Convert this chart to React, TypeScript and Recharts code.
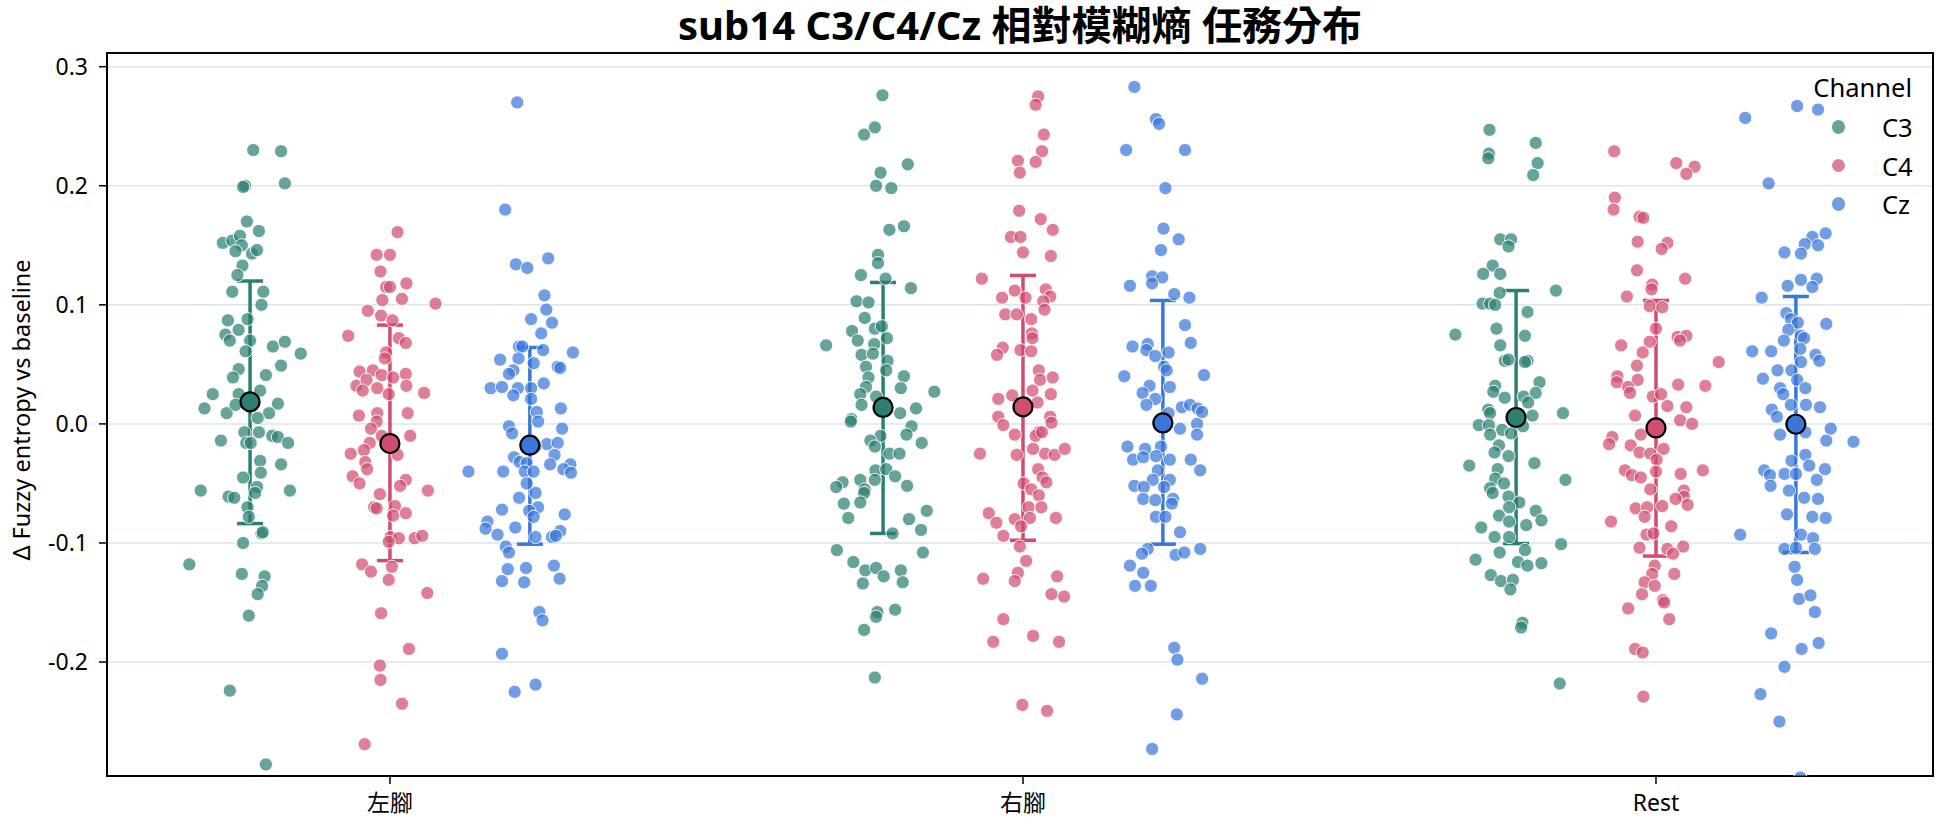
import {
  CartesianGrid,
  ErrorBar,
  ReferenceArea,
  Scatter,
  ScatterChart,
  XAxis,
  YAxis,
} from "recharts";

const FONT = '"Noto Sans", "Noto Sans CJK TC", sans-serif';

const conditions = ["左腳", "右腳", "Rest"];
const channels = ["C3", "C4", "Cz"];
const channelColors = ["#2b7f74", "#d14d6f", "#3a77d9"];
const dodge = [-0.221, 0, 0.221];

// each point: [jitter, value]
const leftC3 = [[0.005,0.230],[0.049,0.229],[-0.008,0.200],[-0.011,0.199],[0.055,0.202],[-0.005,0.170],[0.014,0.162],[-0.043,0.152],[-0.028,0.154],[-0.016,0.158],[-0.013,0.150],[-0.023,0.145],[0.003,0.143],[0.011,0.146],[-0.012,0.133],[-0.020,0.125],[-0.028,0.111],[0.021,0.111],[0.018,0.100],[-0.035,0.087],[-0.004,0.088],[-0.018,0.079],[-0.039,0.075],[-0.032,0.070],[0.0,0.070],[0.036,0.065],[0.055,0.069],[0.080,0.059],[-0.007,0.061],[-0.018,0.046],[-0.027,0.039],[0.025,0.041],[0.049,0.049],[-0.059,0.025],[-0.018,0.025],[0.016,0.028],[0.044,0.017],[-0.072,0.013],[-0.037,0.009],[-0.023,0.016],[0.030,0.009],[0.012,0.005],[-0.009,-0.007],[0.014,-0.007],[-0.006,-0.016],[0.001,-0.016],[0.035,-0.010],[0.044,-0.011],[0.060,-0.016],[-0.046,-0.014],[0.016,-0.031],[0.049,-0.034],[0.017,-0.041],[-0.011,-0.045],[0.011,-0.053],[-0.078,-0.056],[-0.034,-0.061],[-0.025,-0.062],[0.063,-0.056],[0.008,-0.058],[-0.004,-0.070],[-0.002,-0.078],[0.018,-0.092],[0.020,-0.091],[-0.011,-0.100],[-0.096,-0.118],[-0.013,-0.126],[0.023,-0.128],[0.019,-0.136],[0.012,-0.143],[-0.002,-0.161],[-0.032,-0.224],[0.025,-0.286]];
const leftC4 = [[0.012,0.161],[-0.021,0.142],[0.0,0.142],[-0.015,0.128],[0.026,0.118],[-0.006,0.115],[0.0,0.115],[-0.012,0.104],[0.019,0.105],[0.072,0.101],[-0.035,0.095],[-0.014,0.091],[0.004,0.087],[-0.066,0.074],[0.014,0.072],[0.025,0.068],[-0.006,0.060],[-0.008,0.055],[-0.048,0.044],[-0.027,0.045],[-0.013,0.041],[0.005,0.039],[0.025,0.042],[-0.053,0.032],[-0.037,0.037],[-0.020,0.030],[0.026,0.032],[0.054,0.026],[-0.043,0.028],[-0.002,0.025],[-0.049,0.007],[-0.020,0.009],[0.028,0.009],[-0.021,0.002],[0.032,-0.010],[-0.030,-0.004],[-0.013,-0.010],[-0.032,-0.016],[-0.062,-0.025],[-0.041,-0.022],[-0.039,-0.032],[-0.036,-0.038],[0.012,-0.026],[-0.059,-0.044],[-0.048,-0.050],[0.025,-0.047],[0.016,-0.052],[0.060,-0.056],[-0.016,-0.059],[-0.025,-0.070],[-0.021,-0.071],[0.008,-0.069],[0.025,-0.075],[0.005,-0.077],[0.001,-0.095],[0.014,-0.096],[0.039,-0.096],[0.051,-0.094],[-0.002,-0.099],[-0.044,-0.118],[-0.030,-0.124],[0.003,-0.120],[-0.002,-0.131],[0.059,-0.142],[-0.014,-0.159],[0.030,-0.189],[-0.016,-0.203],[-0.015,-0.215],[0.019,-0.235],[-0.040,-0.269]];
const leftCz = [[-0.020,0.270],[-0.039,0.180],[-0.022,0.134],[-0.004,0.131],[0.029,0.139],[0.023,0.108],[0.026,0.096],[0.002,0.088],[0.035,0.085],[0.018,0.076],[-0.017,0.065],[-0.012,0.065],[0.021,0.062],[0.068,0.060],[-0.047,0.054],[-0.018,0.055],[0.006,0.051],[-0.026,0.045],[-0.033,0.042],[0.044,0.048],[0.048,0.047],[0.022,0.034],[-0.062,0.030],[-0.044,0.031],[-0.019,0.030],[0.002,0.030],[-0.026,0.024],[0.002,0.021],[0.049,0.013],[0.011,0.010],[0.013,0.002],[-0.033,-0.002],[-0.028,-0.008],[0.051,-0.004],[0.027,-0.017],[0.044,-0.016],[0.009,-0.019],[0.039,-0.026],[-0.025,-0.028],[-0.016,-0.032],[-0.005,-0.033],[0.032,-0.034],[0.064,-0.034],[0.053,-0.038],[0.065,-0.041],[-0.042,-0.040],[-0.008,-0.040],[-0.097,-0.040],[0.006,-0.040],[-0.005,-0.050],[0.009,-0.058],[-0.017,-0.062],[0.013,-0.070],[-0.001,-0.073],[-0.044,-0.072],[0.055,-0.076],[0.006,-0.078],[-0.067,-0.082],[-0.070,-0.088],[-0.023,-0.087],[-0.051,-0.093],[0.009,-0.095],[0.048,-0.090],[0.035,-0.095],[0.041,-0.094],[-0.038,-0.103],[-0.033,-0.108],[-0.035,-0.122],[-0.006,-0.121],[0.038,-0.119],[-0.044,-0.132],[-0.009,-0.133],[0.047,-0.130],[0.015,-0.158],[0.020,-0.165],[-0.044,-0.193],[0.009,-0.219],[-0.024,-0.225]];
const rightC3 = [[-0.001,0.276],[-0.013,0.249],[-0.030,0.243],[0.039,0.218],[-0.004,0.211],[-0.011,0.200],[0.013,0.198],[0.010,0.163],[0.033,0.166],[-0.008,0.142],[-0.008,0.135],[-0.035,0.125],[0.004,0.122],[0.044,0.114],[-0.042,0.103],[-0.023,0.102],[-0.029,0.089],[-0.049,0.078],[-0.013,0.080],[-0.002,0.082],[-0.090,0.066],[-0.040,0.070],[-0.014,0.067],[0.006,0.072],[-0.034,0.058],[-0.016,0.059],[0.007,0.053],[-0.027,0.048],[0.005,0.045],[0.033,0.040],[-0.023,0.039],[-0.027,0.031],[0.028,0.030],[0.081,0.027],[-0.036,0.025],[-0.011,0.023],[-0.034,0.016],[0.027,0.009],[0.052,0.013],[-0.050,0.004],[-0.051,0.002],[0.045,-0.002],[0.037,-0.009],[-0.004,-0.010],[-0.020,-0.014],[0.061,-0.016],[-0.013,-0.019],[0.010,-0.025],[0.026,-0.025],[-0.012,-0.039],[0.005,-0.038],[0.019,-0.044],[-0.036,-0.047],[-0.013,-0.047],[-0.064,-0.049],[-0.074,-0.053],[-0.029,-0.055],[0.038,-0.052],[-0.030,-0.058],[-0.062,-0.067],[-0.036,-0.066],[0.069,-0.073],[-0.055,-0.079],[0.041,-0.080],[0.060,-0.089],[0.015,-0.092],[-0.073,-0.106],[0.063,-0.108],[-0.047,-0.116],[-0.028,-0.123],[-0.011,-0.121],[0.001,-0.128],[0.028,-0.123],[-0.032,-0.134],[0.031,-0.133],[-0.009,-0.158],[-0.011,-0.162],[0.019,-0.156],[-0.030,-0.173],[-0.013,-0.213]];
const rightC4 = [[0.024,0.275],[0.020,0.268],[0.033,0.243],[0.030,0.229],[-0.008,0.221],[0.020,0.220],[-0.005,0.211],[-0.006,0.179],[0.028,0.172],[0.047,0.163],[-0.019,0.157],[-0.004,0.157],[0.0,0.144],[0.044,0.141],[-0.065,0.122],[-0.013,0.112],[0.036,0.113],[0.043,0.107],[-0.033,0.106],[0.004,0.106],[0.032,0.103],[0.034,0.096],[-0.028,0.092],[-0.010,0.092],[0.013,0.088],[0.014,0.076],[0.015,0.072],[-0.032,0.064],[-0.041,0.058],[-0.004,0.062],[0.013,0.061],[0.025,0.045],[0.027,0.037],[0.047,0.039],[0.015,0.028],[0.044,0.025],[-0.039,0.021],[-0.017,0.024],[0.023,0.018],[-0.039,0.006],[0.043,0.006],[-0.031,-0.001],[-0.013,-0.009],[0.025,-0.007],[0.045,0.001],[0.020,-0.010],[0.030,-0.007],[-0.068,-0.025],[-0.010,-0.026],[0.016,-0.021],[0.035,-0.025],[0.050,-0.026],[0.066,-0.021],[0.024,-0.038],[0.031,-0.045],[0.037,-0.049],[0.001,-0.050],[0.013,-0.055],[0.025,-0.060],[0.009,-0.070],[0.029,-0.070],[-0.054,-0.075],[-0.013,-0.080],[0.011,-0.079],[0.052,-0.079],[-0.042,-0.083],[-0.003,-0.086],[-0.031,-0.094],[-0.005,-0.103],[0.005,-0.115],[-0.008,-0.125],[-0.063,-0.130],[-0.013,-0.132],[0.054,-0.128],[0.045,-0.143],[0.065,-0.145],[-0.031,-0.164],[0.016,-0.178],[-0.047,-0.183],[0.057,-0.183],[-0.001,-0.236],[0.038,-0.241]];
const rightCz = [[-0.045,0.283],[-0.011,0.256],[-0.006,0.252],[-0.058,0.230],[0.035,0.230],[0.004,0.198],[0.001,0.164],[0.025,0.155],[-0.003,0.146],[-0.017,0.124],[-0.001,0.123],[-0.017,0.118],[-0.052,0.116],[0.018,0.109],[0.042,0.106],[0.035,0.083],[-0.048,0.065],[-0.024,0.067],[-0.026,0.062],[0.009,0.060],[0.044,0.068],[-0.012,0.057],[0.002,0.048],[0.006,0.045],[-0.061,0.040],[0.065,0.041],[-0.021,0.032],[0.011,0.031],[-0.032,0.026],[-0.012,0.021],[-0.026,0.016],[0.030,0.014],[0.043,0.016],[0.055,0.013],[0.062,0.010],[0.009,0.009],[0.054,0.000],[0.027,-0.004],[0.054,-0.009],[-0.056,-0.019],[-0.028,-0.021],[-0.003,-0.019],[-0.047,-0.030],[-0.031,-0.028],[-0.011,-0.027],[0.011,-0.030],[0.044,-0.030],[-0.008,-0.039],[0.059,-0.039],[-0.016,-0.047],[0.011,-0.047],[-0.045,-0.052],[-0.030,-0.053],[0.002,-0.053],[-0.031,-0.063],[-0.012,-0.064],[0.016,-0.063],[0.014,-0.067],[-0.011,-0.078],[0.004,-0.078],[0.027,-0.091],[-0.024,-0.105],[-0.033,-0.109],[0.020,-0.110],[0.034,-0.108],[0.059,-0.105],[-0.052,-0.119],[-0.031,-0.125],[-0.044,-0.136],[-0.019,-0.136],[0.018,-0.188],[0.023,-0.198],[0.062,-0.214],[0.022,-0.244],[-0.017,-0.273]];
const restC3 = [[-0.042,0.247],[0.031,0.236],[-0.043,0.227],[-0.044,0.223],[0.034,0.219],[0.027,0.209],[-0.025,0.155],[-0.008,0.155],[-0.012,0.149],[-0.037,0.133],[-0.052,0.126],[-0.025,0.126],[0.063,0.112],[-0.026,0.110],[-0.053,0.101],[-0.041,0.101],[-0.033,0.100],[0.018,0.094],[-0.096,0.075],[-0.031,0.080],[0.014,0.074],[-0.025,0.066],[-0.018,0.053],[-0.012,0.054],[0.018,0.053],[0.014,0.052],[0.037,0.035],[-0.033,0.032],[-0.036,0.027],[-0.018,0.022],[0.012,0.023],[0.031,0.026],[0.074,0.009],[-0.044,0.012],[-0.041,0.009],[0.019,0.018],[0.026,0.007],[-0.059,-0.001],[-0.043,-0.001],[-0.022,-0.005],[-0.041,-0.009],[-0.008,-0.008],[0.011,-0.002],[-0.074,-0.035],[-0.027,-0.018],[-0.034,-0.024],[-0.012,-0.027],[0.029,-0.033],[-0.029,-0.038],[-0.033,-0.046],[-0.019,-0.050],[0.078,-0.047],[-0.041,-0.054],[-0.037,-0.058],[-0.012,-0.061],[0.005,-0.066],[-0.011,-0.070],[0.031,-0.073],[-0.027,-0.077],[-0.011,-0.082],[0.016,-0.085],[0.040,-0.081],[-0.055,-0.087],[-0.034,-0.095],[-0.011,-0.095],[0.071,-0.101],[-0.026,-0.108],[0.014,-0.106],[-0.064,-0.114],[0.003,-0.116],[0.018,-0.119],[0.040,-0.117],[-0.040,-0.127],[-0.024,-0.132],[-0.005,-0.131],[-0.009,-0.139],[0.010,-0.167],[0.008,-0.171],[0.069,-0.218]];
const restC4 = [[-0.066,0.229],[0.032,0.219],[0.061,0.216],[0.048,0.210],[-0.065,0.190],[-0.067,0.180],[-0.026,0.174],[-0.020,0.173],[-0.029,0.153],[0.018,0.152],[0.009,0.147],[-0.030,0.129],[0.046,0.122],[-0.006,0.117],[-0.007,0.113],[-0.046,0.107],[-0.010,0.099],[0.010,0.098],[0.0,0.080],[-0.010,0.069],[-0.055,0.066],[0.034,0.073],[0.048,0.074],[0.038,0.070],[0.099,0.052],[-0.021,0.060],[-0.030,0.049],[-0.061,0.040],[-0.062,0.035],[-0.029,0.037],[-0.044,0.031],[-0.041,0.026],[0.035,0.033],[0.078,0.032],[-0.005,0.023],[0.008,0.025],[0.018,0.015],[0.048,0.014],[-0.033,0.007],[0.038,0.003],[0.057,0.000],[-0.069,-0.011],[-0.074,-0.017],[-0.040,-0.018],[-0.024,-0.009],[-0.026,-0.024],[-0.009,-0.025],[0.012,-0.021],[0.001,-0.030],[-0.049,-0.039],[-0.038,-0.043],[-0.024,-0.045],[0.0,-0.040],[0.039,-0.042],[0.074,-0.039],[-0.009,-0.055],[0.044,-0.056],[0.044,-0.061],[0.031,-0.063],[0.050,-0.068],[-0.032,-0.071],[-0.014,-0.070],[0.010,-0.069],[-0.018,-0.078],[-0.071,-0.082],[0.024,-0.086],[-0.015,-0.093],[-0.004,-0.092],[-0.026,-0.104],[0.018,-0.105],[0.043,-0.103],[0.027,-0.109],[-0.002,-0.119],[0.029,-0.126],[-0.006,-0.126],[-0.018,-0.133],[-0.002,-0.136],[-0.022,-0.143],[0.011,-0.148],[0.013,-0.150],[-0.044,-0.155],[0.021,-0.164],[-0.033,-0.189],[-0.021,-0.192],[-0.020,-0.229]];
const restCz = [[0.002,0.267],[0.035,0.264],[-0.080,0.257],[-0.043,0.202],[0.047,0.160],[0.026,0.157],[0.014,0.151],[0.035,0.150],[-0.018,0.144],[0.008,0.143],[0.033,0.122],[0.008,0.121],[-0.013,0.116],[0.026,0.115],[-0.054,0.106],[-0.015,0.093],[-0.008,0.088],[0.003,0.085],[0.048,0.084],[-0.012,0.079],[0.008,0.074],[0.013,0.072],[-0.019,0.070],[-0.069,0.061],[-0.039,0.061],[0.007,0.063],[0.031,0.058],[0.037,0.053],[0.008,0.052],[-0.029,0.045],[-0.007,0.045],[-0.052,0.038],[0.002,0.037],[-0.025,0.030],[-0.020,0.025],[0.015,0.030],[-0.038,0.012],[-0.008,0.016],[0.016,0.016],[0.038,0.014],[-0.030,0.006],[0.055,-0.004],[0.048,-0.014],[-0.025,-0.009],[0.015,-0.007],[0.091,-0.015],[0.015,-0.026],[-0.007,-0.031],[0.021,-0.035],[0.046,-0.038],[-0.050,-0.039],[-0.041,-0.043],[-0.018,-0.042],[0.0,-0.042],[0.033,-0.047],[-0.040,-0.052],[-0.011,-0.056],[0.013,-0.062],[0.035,-0.063],[-0.014,-0.076],[0.026,-0.078],[0.047,-0.079],[-0.088,-0.093],[0.008,-0.093],[0.027,-0.096],[-0.018,-0.105],[0.0,-0.104],[0.030,-0.105],[-0.002,-0.120],[0.002,-0.131],[0.005,-0.147],[0.023,-0.144],[0.030,-0.158],[-0.039,-0.176],[0.009,-0.189],[0.036,-0.184],[-0.018,-0.204],[-0.056,-0.227],[-0.026,-0.250],[0.007,-0.297]];

// per channel: means and 95% CI bounds per condition (左腳, 右腳, Rest)
const meanC3 = [0.0185, 0.0138, 0.0054];
const ciLowC3 = [-0.0837, -0.092, -0.1005];
const ciHighC3 = [0.12, 0.1188, 0.112];
const meanC4 = [-0.0165, 0.0143, -0.0034];
const ciLowC4 = [-0.1148, -0.0977, -0.111];
const ciHighC4 = [0.083, 0.1247, 0.1037];
const meanCz = [-0.0179, 0.0008, -0.0003];
const ciLowCz = [-0.101, -0.101, -0.108];
const ciHighCz = [0.0642, 0.1037, 0.107];

const yTicks = [-0.2, -0.1, 0, 0.1, 0.2, 0.3];
const X_DOMAIN: [number, number] = [-0.447, 2.4376];
const Y_DOMAIN: [number, number] = [-0.2957, 0.3115];

const groups = [
  [leftC3, rightC3, restC3],
  [leftC4, rightC4, restC4],
  [leftCz, rightCz, restCz],
];
const stats = [
  [meanC3, ciLowC3, ciHighC3],
  [meanC4, ciLowC4, ciHighC4],
  [meanCz, ciLowCz, ciHighCz],
];

const stripData = channels.map((_, ch) =>
  groups[ch].flatMap((pts, ci) =>
    pts.map(([j, v]) => ({ x: ci + dodge[ch] + j, y: v }))
  )
);

const meanData = channels.map((_, ch) => {
  const [m, lo, hi] = stats[ch];
  return conditions.map((_, ci) => ({
    x: ci + dodge[ch],
    y: m[ci],
    err: [m[ci] - lo[ci], hi[ci] - m[ci]],
  }));
});

const tickStyle = { fill: "#000", fontSize: 23, fontFamily: FONT };

export default function App() {
  return (
    <div
      style={{
        position: "absolute",
        left: 0,
        top: 0,
        width: 1944,
        height: 827,
        background: "#fff",
        fontFamily: FONT,
      }}
    >
      <ScatterChart
        width={1944}
        height={827}
        margin={{ top: 53, right: 11, bottom: 0, left: 0 }}
        style={{ position: "absolute", left: 0, top: 0 }}
      >
        <CartesianGrid vertical={false} stroke="#dce5ee" strokeWidth={1.5} />
        <XAxis
          type="number"
          dataKey="x"
          domain={X_DOMAIN}
          ticks={[0, 1, 2]}
          tickFormatter={(v: number) => conditions[v]}
          allowDataOverflow
          height={51}
          tickSize={8}
          tickMargin={11}
          tick={tickStyle}
          tickLine={{ stroke: "#000", strokeWidth: 1.5 }}
          axisLine={{ stroke: "#000", strokeWidth: 2 }}
        />
        <YAxis
          type="number"
          dataKey="y"
          domain={Y_DOMAIN}
          ticks={yTicks}
          tickFormatter={(v: number) => v.toFixed(1)}
          allowDataOverflow
          width={107}
          tickSize={8}
          tickMargin={11}
          tick={tickStyle}
          tickLine={{ stroke: "#000", strokeWidth: 1.5 }}
          axisLine={{ stroke: "#000", strokeWidth: 2 }}
        />
        {channels.map((ch, i) => (
          <Scatter
            key={"strip-" + ch}
            name={ch}
            data={stripData[i]}
            isAnimationActive={false}
            shape={(p: any) => (
              <circle
                cx={p.cx}
                cy={p.cy}
                r={6.6}
                fill={channelColors[i]}
                fillOpacity={0.72}
                stroke="#ffffff"
                strokeWidth={0.9}
              />
            )}
          />
        ))}
        {channels.map((ch, i) => (
          <Scatter
            key={"mean-" + ch}
            data={meanData[i]}
            isAnimationActive={false}
            shape={(p: any) => (
              <circle
                cx={p.cx}
                cy={p.cy}
                r={9.5}
                fill={channelColors[i]}
                stroke="#000"
                strokeWidth={2.2}
              />
            )}
          >
            <ErrorBar
              dataKey="err"
              direction="y"
              width={13}
              stroke={channelColors[i]}
              strokeWidth={3.5}
              isAnimationActive={false}
            />
          </Scatter>
        ))}
        <ReferenceArea
          x1={X_DOMAIN[0]}
          x2={X_DOMAIN[1]}
          y1={Y_DOMAIN[0]}
          y2={Y_DOMAIN[1]}
          fill="none"
          stroke="#000"
          strokeWidth={2}
          ifOverflow="visible"
        />
      </ScatterChart>

      <div
        style={{
          position: "absolute",
          left: 107,
          width: 1826,
          top: 2,
          textAlign: "center",
          fontSize: 40,
          fontWeight: 700,
          lineHeight: "46px",
          color: "#000",
        }}
      >
        sub14 C3/C4/Cz 相對模糊熵 任務分布
      </div>

      <div
        style={{
          position: "absolute",
          left: 21,
          top: 410,
          transform: "translate(-50%, -50%) rotate(-90deg)",
          whiteSpace: "nowrap",
          fontSize: 23.5,
          color: "#000",
        }}
      >
        Δ Fuzzy entropy vs baseline
      </div>

      <div
        style={{
          position: "absolute",
          right: 1944 - 1912,
          top: 87,
          transform: "translateY(-50%)",
          fontSize: 25.5,
          lineHeight: "30px",
          color: "#000",
        }}
      >
        Channel
      </div>
      {channels.map((ch, i) => (
        <div key={ch}>
          <span
            style={{
              position: "absolute",
              left: 1838.5 - 6.6,
              top: 127 + i * 38.5 - 6.6,
              width: 13.2,
              height: 13.2,
              borderRadius: "50%",
              background: channelColors[i],
              opacity: 0.72,
            }}
          />
          <span
            style={{
              position: "absolute",
              left: 1882,
              top: 127 + i * 38.5,
              transform: "translateY(-50%)",
              fontSize: 25.5,
              lineHeight: "30px",
              color: "#000",
            }}
          >
            {ch}
          </span>
        </div>
      ))}
    </div>
  );
}
